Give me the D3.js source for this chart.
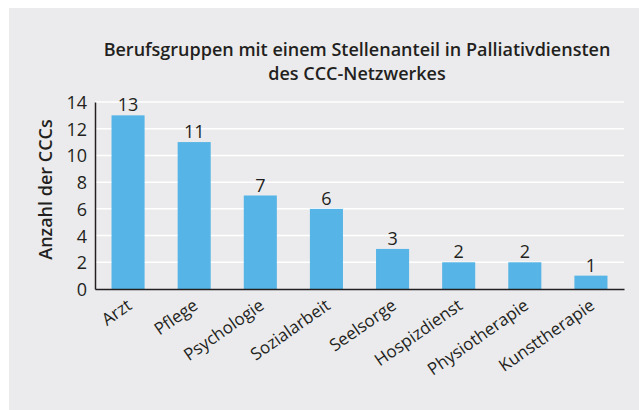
<!DOCTYPE html>
<meta charset="utf-8">
<script src="https://d3js.org/d3.v7.min.js"></script>
<style>
  body { margin: 0; }
  text { font-family: "Open Sans", sans-serif; fill: #231f20; }
</style>
<div id="my_dataviz"></div>
<script>
// data
var categories = ["Arzt", "Pflege", "Psychologie", "Sozialarbeit", "Seelsorge", "Hospizdienst", "Physiotherapie", "Kunsttherapie"];
var values = [13, 11, 7, 6, 3, 2, 2, 1];
var yTicks = [0, 2, 4, 6, 8, 10, 12, 14];
var titleLines = ["Berufsgruppen mit einem Stellenanteil in Palliativdiensten", "des CCC-Netzwerkes"];

var W = 639, H = 410;
var margin = {top: 102, right: 15, bottom: 121, left: 95},
    width = W - margin.left - margin.right,
    height = H - margin.top - margin.bottom;

var root = d3.select("#my_dataviz")
  .append("svg")
    .attr("width", W)
    .attr("height", H);

// panel background
root.append("rect")
  .attr("x", 9).attr("y", 8)
  .attr("width", W - 9).attr("height", H - 8)
  .attr("fill", "#ebebed");

var svg = root.append("g")
  .attr("transform", "translate(" + margin.left + "," + margin.top + ")");

var x = d3.scaleBand()
  .domain(categories)
  .range([0, width])
  .paddingInner(0.5)
  .paddingOuter(0.25);

var y = d3.scaleLinear()
  .domain([0, 14])
  .range([height, 0]);

// gridlines
svg.selectAll("grid")
  .data(yTicks.slice(1))
  .enter()
  .append("line")
    .attr("x1", 0)
    .attr("x2", width)
    .attr("y1", function(d) { return y(d); })
    .attr("y2", function(d) { return y(d); })
    .attr("stroke", "#ffffff")
    .attr("stroke-width", 1.5);

// bars
svg.selectAll("bars")
  .data(values)
  .enter()
  .append("rect")
    .attr("x", function(d, i) { return x(categories[i]); })
    .attr("y", function(d) { return y(d); })
    .attr("width", x.bandwidth())
    .attr("height", function(d) { return height - y(d); })
    .attr("fill", "#56b4e6");

// value labels
svg.selectAll("vals")
  .data(values)
  .enter()
  .append("text")
    .attr("x", function(d, i) { return x(categories[i]) + x.bandwidth() / 2; })
    .attr("y", function(d) { return y(d) - 4; })
    .attr("text-anchor", "middle")
    .style("font-size", "18px")
    .text(function(d) { return d; });

// Y axis
var yAxis = svg.append("g")
  .call(d3.axisLeft(y).tickValues(yTicks).tickSize(0).tickPadding(8));
yAxis.select(".domain").attr("stroke", "#231f20").attr("stroke-width", 1.5);
yAxis.selectAll("text").style("font-size", "18px").attr("dy", "0.36em");

// X axis
var xAxis = svg.append("g")
  .attr("transform", "translate(0," + height + ")")
  .call(d3.axisBottom(x).tickSize(0));
xAxis.select(".domain").attr("stroke", "#231f20").attr("stroke-width", 1.5);
xAxis.selectAll("text")
  .style("font-size", "17px")
  .attr("y", 0)
  .attr("dy", 0)
  .attr("text-anchor", "end")
  .attr("transform", "translate(5,19)rotate(-35)");

// title
root.append("text")
  .attr("text-anchor", "middle")
  .style("font-size", "18px")
  .style("font-weight", "600")
  .selectAll("tspan")
  .data(titleLines)
  .enter()
  .append("tspan")
    .attr("x", 357)
    .attr("y", function(d, i) { return 56 + i * 24; })
    .text(function(d) { return d; });

// Y axis label
root.append("text")
  .attr("text-anchor", "middle")
  .attr("transform", "translate(52," + (margin.top + height / 2 - 6) + ")rotate(-90)")
  .style("font-size", "18px")
  .style("font-weight", "600")
  .text("Anzahl der CCCs");
</script>
